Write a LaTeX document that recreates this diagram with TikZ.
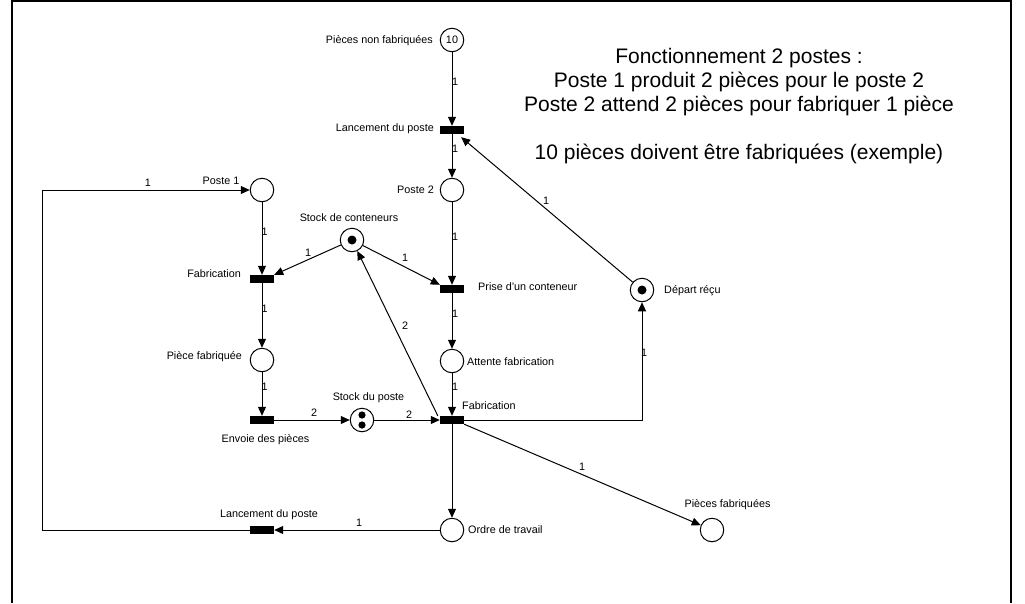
\documentclass[tikz,border=0pt]{standalone}
\usepackage{fontspec}
\setmainfont{Liberation Sans}
\usetikzlibrary{arrows.meta}
\begin{document}
\begin{tikzpicture}[x=1pt,y=-1pt,
  place/.style={circle, draw, line width=1pt, minimum size=23.5pt, inner sep=0pt},
  trans/.style={rectangle, fill=black, minimum width=24pt, minimum height=8pt, inner sep=0pt},
  lab/.style={font=\fontsize{10.8}{12}\selectfont, inner sep=0pt, text height=7.7pt, text depth=0pt},
  wgt/.style={lab},
  arc/.style={line width=1pt, -{Triangle[length=9pt,width=8pt]}},
  token/.style={fill=black},
]
\useasboundingbox (0,0) rectangle (1025,603);
\draw[line width=1.5pt] (12,603) -- (12,0.75) -- (1011,0.75) -- (1011,603);

% places and transitions
\node[place] (pnf) at (452,40) {\fontsize{10.8}{12}\selectfont 10};
\node[trans] (lanT) at (452,130) {};
\node[place] (p2) at (452,190) {};
\node[place] (p1) at (262,190) {};
\node[place] (sc) at (352,240) {};
\node[trans] (fabL) at (262,279) {};
\node[trans] (prise) at (452,289) {};
\node[place] (dep) at (642,290) {};
\node[place] (pfab) at (262,360) {};
\node[place] (att) at (452,361) {};
\node[trans] (env) at (262,420) {};
\node[place] (sp) at (362,420) {};
\node[trans] (fabR) at (452,420) {};
\node[place] (ordre) at (452,530) {};
\node[trans] (lanB) at (262,530) {};
\node[place] (pf) at (712,530) {};
\coordinate (loopc) at (42,530);

% tokens
\fill[token] (sc) circle[radius=4.5pt];
\fill[token] (dep) circle[radius=4.5pt];
\fill[token] ([yshift=5pt]sp.center) circle[radius=3.6pt];
\fill[token] ([yshift=-5pt]sp.center) circle[radius=3.6pt];

% arcs
\draw[arc] (pnf) -- (lanT);
\draw[arc] (lanT) -- (p2);
\draw[arc] (dep) -- ([xshift=-3pt,yshift=-3pt]lanT.south east);
\draw[arc] (p2) -- (prise);
\draw[arc] (sc) -- (prise.north west);
\draw[arc] (sc) -- (fabL.north east);
\draw[arc] (p1) -- (fabL);
\draw[arc] (fabL) -- (pfab);
\draw[arc] (pfab) -- (env);
\draw[arc] (env) -- (sp);
\draw[arc] (sp) -- (fabR);
\draw[arc] (prise) -- (att);
\draw[arc] (att) -- (fabR);
\draw[arc] ([xshift=-2pt]fabR.north west) -- (sc);
\draw[arc] (fabR) -| (dep);
\draw[arc] (fabR.south east) -- (pf);
\draw[arc] (fabR) -- (ordre);
\draw[arc] (ordre) -- (lanB);
\draw[arc] (lanB) -- (loopc) |- (p1);

% weights
\node[wgt] (w1) at (455,82) {1};
\node[wgt] (w2) at (455,149) {1};
\node[wgt] (w3) at (546,201) {1};
\node[wgt] (w4) at (455,237) {1};
\node[wgt] (w5) at (405,258) {1};
\node[wgt] (w6) at (308,253) {1};
\node[wgt] (w7) at (264.5,232) {1};
\node[wgt] (w8) at (264.5,309) {1};
\node[wgt] (w9) at (264.5,387) {1};
\node[wgt] (w10) at (314,413) {2};
\node[wgt] (w11) at (409,415) {2};
\node[wgt] (w12) at (455,314) {1};
\node[wgt] (w13) at (455,387) {1};
\node[wgt] (w14) at (405,326) {2};
\node[wgt] (w15) at (644,353) {1};
\node[wgt] (w16) at (582,467) {1};
\node[wgt] (w18) at (359,523) {1};
\node[wgt] (w19) at (148,183) {1};

% labels
\node[lab, anchor=east] (lpnf) at (433,40) {Pièces non fabriquées};
\node[lab, anchor=east] (llanT) at (434,128) {Lancement du poste};
\node[lab, anchor=east] (lp2) at (434,190) {Poste 2};
\node[lab] (lp1) at (221,181) {Poste 1};
\node[lab] (lsc) at (349,218) {Stock de conteneurs};
\node[lab, anchor=east] (lfabL) at (241,274) {Fabrication};
\node[lab, anchor=west] (lprise) at (478,287) {Prise d'un conteneur};
\node[lab, anchor=west] (ldep) at (664,290) {Départ réçu};
\node[lab, anchor=east] (lpfab) at (242,356) {Pièce fabriquée};
\node[lab, anchor=west] (latt) at (467,362) {Attente fabrication};
\node[lab] (lsp) at (368.5,397) {Stock du poste};
\node[lab, anchor=west] (lfabR) at (462,406) {Fabrication};
\node[lab] (lenv) at (265.5,439) {Envoie des pièces};
\node[lab] (llanB) at (269,514) {Lancement du poste};
\node[lab, anchor=west] (lordre) at (468,530) {Ordre de travail};
\node[lab] (lpf) at (727.5,504) {Pièces fabriquées};

% title
\node[anchor=north, align=center, inner sep=0pt, font=\fontsize{21}{24}\selectfont] (title) at (739,48.5)
  {Fonctionnement 2 postes :\\ Poste 1 produit 2 pièces pour le poste 2\\ Poste 2 attend 2 pièces pour fabriquer 1 pièce\\[24pt] 10 pièces doivent être fabriquées (exemple)};
\end{tikzpicture}
\end{document}
